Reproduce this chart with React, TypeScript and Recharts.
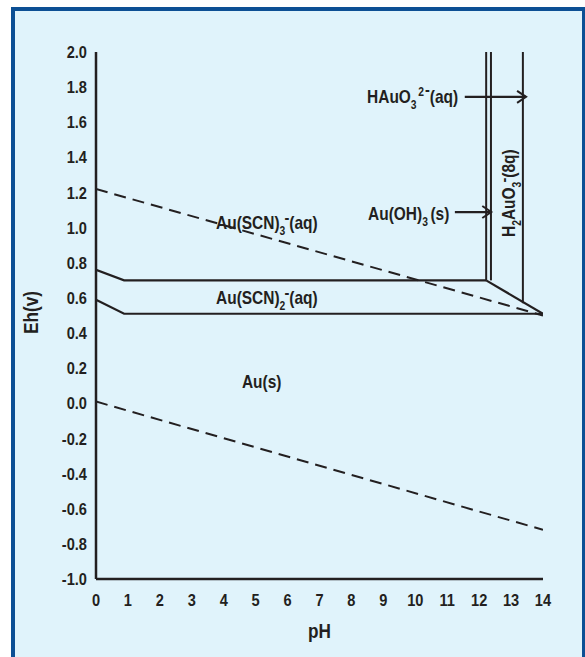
import React from 'react';
import { ComposedChart, Line, Scatter, XAxis, YAxis, Label } from 'recharts';

const xTicks = [0, 1, 2, 3, 4, 5, 6, 7, 8, 9, 10, 11, 12, 13, 14];
const yTicks = [-1.0, -0.8, -0.6, -0.4, -0.2, 0.0, 0.2, 0.4, 0.6, 0.8, 1.0, 1.2, 1.4, 1.6, 1.8, 2.0];

// boundaries (pH, Eh)
const upperBoundary = [
  { x: 0, y: 0.76 },
  { x: 0.88, y: 0.70 },
  { x: 12.22, y: 0.70 },
];
const lowerBoundary = [
  { x: 0, y: 0.59 },
  { x: 0.88, y: 0.51 },
  { x: 14, y: 0.51 },
];
const diagonalBoundary = [
  { x: 12.22, y: 0.70 },
  { x: 14, y: 0.51 },
];
const verticalA = [
  { x: 12.22, y: 0.70 },
  { x: 12.22, y: 2.0 },
];
const verticalB = [
  { x: 12.37, y: 0.70 },
  { x: 12.37, y: 2.0 },
];
const verticalC = [
  { x: 13.37, y: 0.57 },
  { x: 13.37, y: 2.0 },
];
const dashedUpper = [
  { x: 0, y: 1.22 },
  { x: 14, y: 0.5 },
];
const dashedLower = [
  { x: 0, y: 0.01 },
  { x: 14, y: -0.72 },
];
const arrowHAuO = [
  { x: 11.55, y: 1.745 },
  { x: 13.47, y: 1.745 },
];
const arrowAuOH = [
  { x: 11.24, y: 1.089 },
  { x: 12.38, y: 1.089 },
];

const regionLabels = [
  { x: 3.76, y: 0.99, id: 'scn3' },
  { x: 3.76, y: 0.566, id: 'scn2' },
  { x: 4.57, y: 0.087, id: 'aus' },
  { x: 8.49, y: 1.71, id: 'hauo3' },
  { x: 8.52, y: 1.044, id: 'auoh3' },
  { x: 13.12, y: 0.947, id: 'h2auo3' },
];

const INK = '#231f20';
const FONT = "'Liberation Sans', Arial, Helvetica, sans-serif";
const SX = 0.86;

const ArrowDot = (props: any) => {
  const { cx, cy, index } = props;
  if (index !== 1) return <g key={`d${index}`} />;
  return (
    <path
      key={`d${index}`}
      d={`M${cx - 9},${cy - 6} L${cx},${cy} L${cx - 9},${cy + 6}`}
      fill="none"
      stroke={INK}
      strokeWidth={2}
    />
  );
};

const LabelShape = (props: any) => {
  const { cx, cy, payload } = props;
  const common = {
    fontFamily: FONT,
    fontWeight: 700,
    fontSize: 18,
    fill: INK,
  } as any;
  let content: any = null;
  let rot = '';
  switch (payload.id) {
    case 'scn3':
      content = (
        <text x={0} y={0} {...common}>
          Au(SCN)
          <tspan dy={6} fontSize={12}>3</tspan>
          <tspan dy={-12} dx={-1} fontSize={17}>-</tspan>
          <tspan dy={6}>(aq)</tspan>
        </text>
      );
      break;
    case 'scn2':
      content = (
        <text x={0} y={0} {...common}>
          Au(SCN)
          <tspan dy={6} fontSize={12}>2</tspan>
          <tspan dy={-12} dx={-1} fontSize={17}>-</tspan>
          <tspan dy={6}>(aq)</tspan>
        </text>
      );
      break;
    case 'aus':
      content = (
        <text x={0} y={0} {...common}>
          Au(s)
        </text>
      );
      break;
    case 'hauo3':
      content = (
        <text x={0} y={0} {...common}>
          HAuO
          <tspan dy={6} fontSize={12}>3</tspan>
          <tspan dy={-13} dx={2} fontSize={12}>2</tspan>
          <tspan dy={-1} dx={1} fontSize={17}>-</tspan>
          <tspan dy={8}>(aq)</tspan>
        </text>
      );
      break;
    case 'auoh3':
      content = (
        <text x={0} y={0} {...common}>
          Au(OH)
          <tspan dy={6} fontSize={12}>3</tspan>
          <tspan dy={-6} dx={3}>(s)</tspan>
        </text>
      );
      break;
    case 'h2auo3':
      rot = ' rotate(-90)';
      content = (
        <text x={0} y={0} {...common}>
          H
          <tspan dy={6} fontSize={12}>2</tspan>
          <tspan dy={-6}>AuO</tspan>
          <tspan dy={6} fontSize={12}>3</tspan>
          <tspan dy={-12} dx={-1} fontSize={17}>-</tspan>
          <tspan dy={6}>(8q)</tspan>
        </text>
      );
      break;
    default:
      return <g />;
  }
  return <g transform={`translate(${cx},${cy})${rot} scale(${SX},1)`}>{content}</g>;
};

const tickText = { fontFamily: FONT, fontWeight: 700, fontSize: 17, fill: INK } as any;

const XTick = (props: any) => {
  const { x, y, payload } = props;
  return (
    <g transform={`translate(${x},${y}) scale(${SX},1)`}>
      <text x={0} y={0} dy="0.71em" textAnchor="middle" {...tickText}>
        {String(payload.value)}
      </text>
    </g>
  );
};

const YTick = (props: any) => {
  const { x, y, payload } = props;
  return (
    <g transform={`translate(${x},${y}) scale(${SX},1)`}>
      <text x={0} y={0} dy="0.355em" textAnchor="end" {...tickText}>
        {Number(payload.value).toFixed(1)}
      </text>
    </g>
  );
};

const axisTitle = { fontFamily: FONT, fontWeight: 700, fontSize: 20, fill: INK } as any;

export default function App() {
  return (
    <div style={{ position: 'absolute', left: 0, top: 0, width: 585, height: 657, overflow: 'hidden' }}>
      <div
        style={{
          position: 'absolute',
          left: 11,
          top: 7,
          width: 567,
          height: 646,
          background: '#e0f3fb',
          borderLeft: '4px solid #0c4f94',
          borderTop: '4px solid #0c4f94',
          borderRight: '3px solid #0c4f94',
          borderBottom: '2px solid #a9d3ef',
          boxSizing: 'content-box',
        }}
      />
      <div style={{ position: 'absolute', left: 0, top: 0 }}>
        <ComposedChart
          width={585}
          height={657}
          margin={{ top: 52, right: 42, bottom: 16, left: 36 }}
        >
          <XAxis
            type="number"
            dataKey="x"
            domain={[0, 14]}
            ticks={xTicks}
            interval={0}
            allowDataOverflow
            tickLine={false}
            tickSize={6}
            tickMargin={9}
            height={62}
            axisLine={{ stroke: INK, strokeWidth: 2.5 }}
            tick={XTick}
          >
            <Label
              content={(p: any) => {
                const vb = p.viewBox || {};
                const lx = vb.x + vb.width / 2;
                const ly = vb.y + vb.height - 3;
                return (
                  <g transform={`translate(${lx},${ly}) scale(${SX},1)`}>
                    <text x={0} y={0} textAnchor="middle" {...axisTitle}>
                      pH
                    </text>
                  </g>
                );
              }}
            />
          </XAxis>
          <YAxis
            type="number"
            dataKey="y"
            domain={[-1, 2]}
            ticks={yTicks}
            interval={0}
            allowDataOverflow
            tickLine={false}
            tickSize={6}
            tickMargin={3}
            width={60}
            axisLine={{ stroke: INK, strokeWidth: 2.5 }}
            tick={YTick}
          >
            <Label
              content={(p: any) => {
                const vb = p.viewBox || {};
                const lx = vb.x + 2;
                const ly = vb.y + vb.height / 2 - 3;
                return (
                  <g transform={`translate(${lx},${ly}) rotate(-90) scale(${SX},1)`}>
                    <text x={0} y={0} textAnchor="middle" {...axisTitle}>
                      Eh(v)
                    </text>
                  </g>
                );
              }}
            />
          </YAxis>
          <Line data={dashedUpper} dataKey="y" stroke={INK} strokeWidth={2} strokeDasharray="12 7" dot={false} isAnimationActive={false} />
          <Line data={dashedLower} dataKey="y" stroke={INK} strokeWidth={2} strokeDasharray="12 7" dot={false} isAnimationActive={false} />
          <Line data={upperBoundary} dataKey="y" stroke={INK} strokeWidth={2.2} dot={false} isAnimationActive={false} />
          <Line data={lowerBoundary} dataKey="y" stroke={INK} strokeWidth={2.2} dot={false} isAnimationActive={false} />
          <Line data={diagonalBoundary} dataKey="y" stroke={INK} strokeWidth={2.2} dot={false} isAnimationActive={false} />
          <Line data={verticalA} dataKey="y" stroke={INK} strokeWidth={2} dot={false} isAnimationActive={false} />
          <Line data={verticalB} dataKey="y" stroke={INK} strokeWidth={2} dot={false} isAnimationActive={false} />
          <Line data={verticalC} dataKey="y" stroke={INK} strokeWidth={2} dot={false} isAnimationActive={false} />
          <Line data={arrowHAuO} dataKey="y" stroke={INK} strokeWidth={2.2} dot={ArrowDot} isAnimationActive={false} />
          <Line data={arrowAuOH} dataKey="y" stroke={INK} strokeWidth={2.2} dot={ArrowDot} isAnimationActive={false} />
          <Scatter data={regionLabels} dataKey="y" shape={LabelShape} isAnimationActive={false} />
        </ComposedChart>
      </div>
    </div>
  );
}
